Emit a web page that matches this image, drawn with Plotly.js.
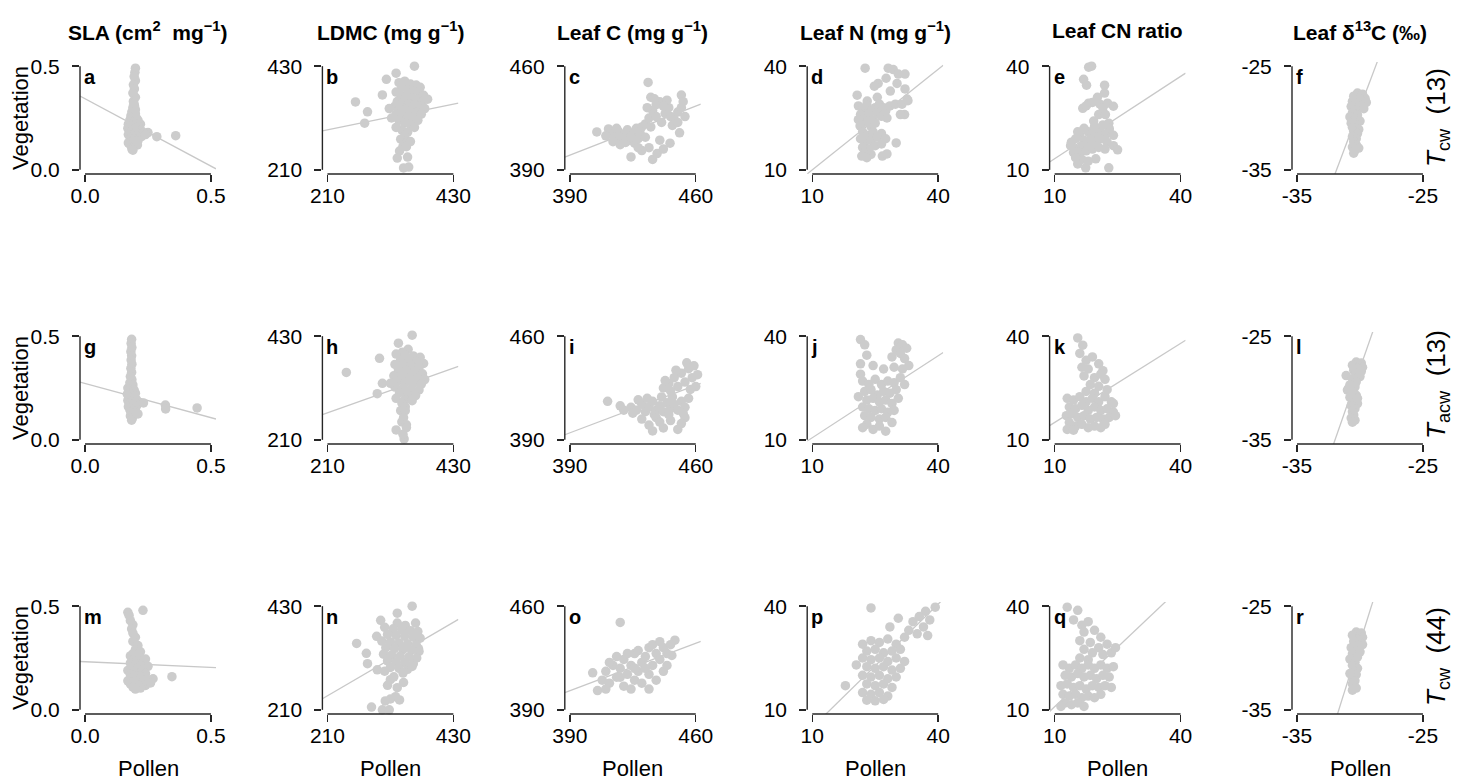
<!DOCTYPE html>
<html>
<head>
<meta charset="utf-8">
<script src="https://cdn.plot.ly/plotly-3.0.1.min.js"></script>
<style>html,body{margin:0;padding:0;background:#fff;}#chart{width:1463px;height:782px;}</style>
</head>
<body>
<div id="chart"></div>
<script>
// ---------------- DATA ----------------
const colTitles = ["SLA (cm<sup>2</sup>\u00a0 mg<sup>\u22121</sup>)", "LDMC (mg g<sup>\u22121</sup>)", "Leaf C (mg g<sup>\u22121</sup>)",
                   "Leaf N (mg g<sup>\u22121</sup>)", "Leaf CN ratio", "Leaf \u03b4<sup>13</sup>C (\u2030)"];
const rowLabels = ["<i>T</i><sub>cw</sub>\u00a0\u00a0(13)", "<i>T</i><sub>acw</sub>\u00a0\u00a0(13)", "<i>T</i><sub>cw</sub>\u00a0\u00a0(44)"];
const panelLetters = ["a","b","c","d","e","f","g","h","i","j","k","l","m","n","o","p","q","r"];
const axisLimits = [[0,0.5],[210,430],[390,460],[10,40],[10,40],[-35,-25]];
const tickLabels = [["0.0","0.5"],["210","430"],["390","460"],["10","40"],["10","40"],["-35","-25"]];
const xTitle = "Pollen";
const yTitle = "Vegetation";

// regression lines (intercept, slope) for panels a..r
const intercepts = [0.343, 242.4, 215.9, 0.3, 5.3, 67.6, 0.272, 176.5, 216.1, 2.7, 7.4, 76.3, 0.232, 90.8, 224.3, -7.0, -0.6, 87.3];
const slopes     = [-0.65, 0.249, 0.472, 0.97, 0.793, 3.22, -0.33, 0.432, 0.458, 0.79, 0.762, 3.48, -0.054, 0.709, 0.458, 1.19, 1.15, 3.86];

// [pollen, vegetation] pairs
const ptsA = [[0.200,0.490],[0.198,0.470],[0.195,0.450],[0.200,0.430],[0.192,0.410],[0.196,0.390],[0.190,0.370],[0.200,0.350],[0.192,0.330],[0.196,0.310],[0.190,0.300],[0.186,0.280],[0.200,0.270],[0.182,0.260],[0.192,0.250],[0.204,0.250],[0.210,0.240],[0.178,0.240],[0.190,0.230],[0.200,0.220],[0.172,0.220],[0.220,0.220],[0.180,0.210],[0.194,0.210],[0.212,0.210],[0.202,0.200],[0.170,0.200],[0.188,0.190],[0.222,0.190],[0.178,0.180],[0.200,0.180],[0.214,0.170],[0.232,0.180],[0.172,0.170],[0.190,0.160],[0.202,0.150],[0.180,0.150],[0.224,0.160],[0.192,0.140],[0.210,0.140],[0.172,0.130],[0.200,0.130],[0.180,0.120],[0.190,0.110],[0.208,0.120],[0.186,0.100],[0.190,0.095],[0.250,0.180],[0.285,0.160],[0.360,0.165],[0.240,0.170],[0.200,0.290],[0.194,0.320]];
const ptsB = [[362,430],[330,415],[313,402],[306,369],[259,354],[280,333],[275,309],[335,395],[345,398],[355,392],[365,390],[372,385],[340,385],[350,380],[360,378],[370,375],[378,368],[330,375],[338,368],[348,365],[358,362],[368,360],[376,355],[332,355],[342,352],[352,350],[362,348],[372,345],[380,340],[328,345],[336,340],[346,338],[356,335],[366,332],[374,328],[330,328],[340,325],[350,322],[360,318],[368,315],[335,315],[345,310],[355,305],[362,300],[340,295],[350,290],[345,282],[338,275],[348,268],[342,260],[348,259],[336,250],[332,235],[350,237],[343,214],[352,216],[355,270],[330,300],[322,320],[385,360],[318,340]];
const ptsC = [[433.5,449],[452,440.5],[435,439],[405,415.6],[411.5,417.6],[413,414],[415,411],[417,416],[419,409],[420,413],[422,417],[423,410],[425,414],[426,408],[427,418],[416,418],[418,412],[421,408.5],[424,412],[414,409],[428,411],[429,415],[430,419],[418,407],[410,413],[432,421],[434,425],[436,430],[438,434],[440,436],[438,426],[441,422],[443,428],[445,432],[446,426],[448,424],[450,429],[452,432],[454,426],[447,420],[444,437],[437,438],[442,433],[433,432],[435,419],[450,422],[453,436],[424,398.7],[436,397],[438.5,401],[451,415],[445.7,408],[440,410],[432,412],[434,405],[430,403],[442,404],[428,405]];
const ptsD = [[22.6,39.4],[28.1,39.4],[29.3,39],[30.5,37.7],[32.1,37.7],[27.6,36.5],[25.7,35],[24.8,34.2],[30.2,35],[32.1,33.4],[20.7,31.6],[28.6,32.8],[25.5,31],[32.6,30.5],[23.1,29.9],[21,28.5],[22,27.5],[23,28.8],[24,27],[25,28],[26,29],[27,28],[21.5,26],[22.5,25],[23.5,26],[24.5,24.5],[25.5,26.5],[26.5,25.5],[22,23.5],[23,24],[24,22.5],[25,23.5],[21,24.5],[27.5,27],[28.5,28.5],[29.8,29],[31.4,29],[32.8,30],[32,26],[31,26],[27.8,25],[21.4,22.7],[22,21],[23,20],[24.5,21],[21.5,19],[22.5,18],[24,18.5],[25.5,19.5],[26.5,20.5],[22,16.5],[23.5,16],[25,17],[26.5,17.5],[27.5,19],[22.5,15],[24,14.5],[21.8,14],[30,17.8],[26.7,14],[27.8,14.6],[23,13.5]];
const ptsE = [[18.1,39.7],[18.8,40],[16.9,36.2],[17.6,34.5],[21.9,34.5],[21.9,32.2],[20.2,31],[18.1,29.3],[16.7,27.8],[22.6,29.3],[24,28.4],[20.5,26],[22.1,26],[19.3,24.1],[22.9,23.5],[19,29.5],[20.8,29],[21.5,28],[17.5,28.5],[14,18],[15,19],[16,20],[17,18.5],[18,21],[19,20],[20,22],[21,21],[22,20],[23,21.5],[24,20],[15,16],[16.5,17],[18,17.5],[19.5,18],[21,19],[22.5,18],[24,17],[14.5,15],[16,15],[17.5,15.5],[19,16],[20.5,16.5],[22,16],[13.8,17],[15.5,21],[17,22],[20,19.5],[18.5,19],[23,22],[21.5,23],[19.5,22.5],[25,15.8],[22.9,10.6],[17.4,10.6],[15.5,11.7],[19.8,13.2],[16.5,13],[18,12.5],[15,13.5]];
const ptsF = [[-30.2,-27.6],[-29.8,-27.7],[-30.5,-27.9],[-29.6,-28.1],[-30.0,-28.2],[-30.6,-28.4],[-29.5,-28.5],[-30.3,-28.6],[-29.9,-28.8],[-30.7,-28.9],[-30.1,-29.0],[-29.7,-29.1],[-30.4,-29.2],[-30.6,-29.5],[-30.2,-29.7],[-30.8,-29.9],[-30.4,-30.1],[-30.0,-30.3],[-30.7,-30.5],[-30.3,-30.7],[-30.6,-30.9],[-30.1,-31.1],[-30.5,-31.3],[-30.2,-31.5],[-30.6,-31.8],[-30.3,-32.0],[-30.5,-32.3],[-30.3,-32.6],[-30.6,-32.8],[-30.4,-33.1],[-30.5,-33.4],[-30.1,-32.9]];
const ptsG = [[0.185,0.485],[0.183,0.465],[0.186,0.445],[0.182,0.425],[0.185,0.405],[0.183,0.385],[0.186,0.365],[0.182,0.345],[0.185,0.325],[0.180,0.305],[0.186,0.29],[0.178,0.275],[0.190,0.265],[0.170,0.25],[0.180,0.245],[0.195,0.24],[0.175,0.235],[0.188,0.23],[0.200,0.225],[0.168,0.22],[0.182,0.215],[0.196,0.21],[0.175,0.205],[0.190,0.2],[0.204,0.195],[0.170,0.19],[0.184,0.185],[0.198,0.18],[0.176,0.175],[0.190,0.17],[0.205,0.165],[0.172,0.16],[0.186,0.155],[0.200,0.15],[0.178,0.145],[0.192,0.14],[0.183,0.13],[0.196,0.128],[0.180,0.115],[0.188,0.105],[0.185,0.095],[0.232,0.178],[0.319,0.168],[0.32,0.149],[0.445,0.154],[0.21,0.125]];
const ptsH = [[358,432],[334,415],[301,383],[243,353],[306,330],[297,308],[341,396],[351,402],[330,392],[345,390],[360,388],[372,385],[338,380],[352,378],[366,376],[378,372],[328,370],[342,368],[356,366],[370,364],[334,358],[348,356],[362,354],[376,350],[326,346],[340,344],[354,342],[368,340],[380,338],[332,334],[346,332],[360,330],[374,328],[328,322],[342,320],[356,318],[370,316],[336,310],[350,306],[364,304],[330,298],[345,295],[358,293],[320,330],[340,288],[346,280],[338,272],[346,272],[343,257],[340,248],[348,242],[330,231],[348,236],[344,212],[342,222]];
const ptsI = [[411,416],[418,413],[424,412],[427,410],[430,414],[432,409],[434,412],[436,416],[438,410],[440,413],[442,409],[444,415],[446,411],[448,414],[450,410],[452,416],[454,412],[456,418],[428,417],[433,418],[441,419],[447,419],[425,408],[437,407],[445,407],[453,408],[420,410],[442,425],[445,428],[448,432],[450,426],[452,435],[454,429],[456,438],[458,432],[460,426],[446,423],[455,442],[459,440],[449,437],[457,424],[443,430],[461,434],[430,404],[434,400],[438,405],[442,398],[446,403],[450,397],[454,405],[440,402],[436,396],[452,401]];
const ptsJ = [[21.5,39],[22.5,37.5],[30.5,38],[31.5,37.5],[32.5,36.5],[30,36],[31,35],[32,33.5],[29,34],[23,34.5],[21.5,32],[24.5,31.5],[27,30.5],[29.5,31],[31.5,30.5],[33,31.5],[22,27],[23.5,26],[25,27.5],[26.5,26],[28,27],[29.5,26.5],[22.5,24],[24,24.5],[25.5,23],[27,24],[28.5,23.5],[30,24.5],[23,21.5],[24.5,22],[26,21],[27.5,21.5],[29,20.5],[22,19.5],[23.5,19],[25,18.5],[26.5,19],[28,18],[29.5,18.5],[22.5,17],[24,16.5],[26,16],[27.5,16.5],[31,28],[32,26],[30.5,22],[23,14.5],[24.5,13],[26,14],[27.5,12.5],[29,15],[22,13.5],[21,22.5],[21.5,29]];
const ptsK = [[15.5,39.5],[16.7,37.4],[16,35],[17.5,33],[19,34],[20.5,32],[18,30.5],[21.5,30],[17,28.5],[19.5,28],[22,27.5],[18.5,26],[20.5,25.5],[22.5,24.5],[17.5,24],[19.5,23.5],[21,29],[16.5,31],[13,22],[14.5,21.5],[16,22.5],[17.5,21],[19,22],[20.5,21],[22,22.5],[23.5,21],[13.5,19.5],[15,19],[16.5,20],[18,18.5],[19.5,19.5],[21,18.5],[22.5,19],[24,18],[12.8,17],[14,17.5],[15.5,16.5],[17,17],[18.5,16],[20,16.5],[21.5,16],[23,16.5],[24.5,17],[13.5,15],[15,14],[16.5,14.5],[18,13.5],[19.5,14],[21,13.5],[13,13],[14.5,12.8],[22,14.5],[24,20.5]];
const ptsL = [[-30.3,-27.5],[-29.9,-27.6],[-30.6,-27.8],[-29.8,-28.0],[-30.2,-28.1],[-30.5,-28.3],[-29.9,-28.4],[-31.1,-28.8],[-30.3,-28.6],[-30.0,-28.9],[-30.6,-29.1],[-30.3,-29.4],[-30.8,-29.7],[-30.4,-29.9],[-31.0,-30.2],[-30.6,-30.4],[-30.3,-30.7],[-30.8,-30.9],[-30.5,-31.2],[-30.2,-31.5],[-30.7,-31.7],[-30.4,-32.0],[-30.6,-32.3],[-30.5,-32.6],[-30.7,-32.9],[-30.4,-33.1],[-30.6,-33.3],[-30.2,-31.0],[-30.9,-30.0]];
const ptsM = [[0.17,0.47],[0.23,0.48],[0.175,0.455],[0.18,0.43],[0.19,0.41],[0.185,0.39],[0.19,0.37],[0.2,0.35],[0.19,0.33],[0.21,0.31],[0.2,0.29],[0.22,0.28],[0.19,0.27],[0.18,0.26],[0.2,0.255],[0.22,0.25],[0.24,0.245],[0.19,0.24],[0.21,0.235],[0.23,0.23],[0.18,0.225],[0.2,0.22],[0.22,0.215],[0.25,0.21],[0.19,0.205],[0.21,0.2],[0.23,0.195],[0.17,0.19],[0.2,0.185],[0.22,0.18],[0.24,0.175],[0.18,0.17],[0.21,0.165],[0.23,0.16],[0.19,0.155],[0.22,0.15],[0.25,0.145],[0.17,0.14],[0.2,0.135],[0.23,0.13],[0.18,0.125],[0.21,0.12],[0.24,0.118],[0.19,0.11],[0.22,0.105],[0.2,0.1],[0.27,0.15],[0.345,0.16],[0.26,0.13]];
const ptsN = [[358,430],[332,415],[303,400],[261,351],[278,330],[280,308],[296,366],[297,295],[332,394],[346,389],[364,394],[369,340],[310,385],[325,382],[340,380],[355,378],[368,376],[315,370],[330,368],[345,366],[360,364],[372,362],[305,356],[320,354],[335,352],[350,350],[365,348],[312,342],[327,340],[342,338],[357,336],[370,334],[308,328],[322,326],[337,324],[352,322],[366,320],[315,314],[330,312],[345,310],[360,308],[320,300],[335,298],[350,296],[310,292],[342,288],[358,302],[320,274],[332,257],[320,233],[311,229],[329,238],[336,231],[287,216],[306,210],[318,210],[343,268],[326,280],[315,262]];
const ptsO = [[418,449],[402.7,415],[405.4,403],[448.4,437],[446.7,426.7],[408,410],[410,416],[412,408],[414,420],[416,412],[418,418],[420,406],[420,424],[422,414],[424,420],[426,410],[426,428],[428,416],[430,422],[430,408],[432,426],[434,414],[434,432],[436,420],[438,428],[438,410],[440,424],[442,432],[442,416],[444,420],[446,434],[416,426],[412,422],[424,404],[428,430],[422,428],[436,434],[432,418],[418,412],[426,418],[440,436],[444,428],[410,404],[434,404]];
const ptsP = [[39.3,39.7],[37,38.5],[35.5,37],[38,36],[34,35.5],[36.5,34],[33,33],[35,32],[32,31],[37.5,31.5],[24,39.5],[30.5,36.5],[28.5,34],[22,29],[24,30],[26,29.5],[28,30.5],[30,29],[23,27],[25,27.5],[27,26.5],[29,27],[31,27.5],[22,25],[24,24.5],[26,25],[28,24],[30,25],[23,22.5],[25,22],[27,22.5],[29,21.5],[31,22],[22,20],[24,19.5],[26,20],[28,19],[30,19.5],[23,17.5],[25,17],[27,17.5],[29,16.5],[22,15],[24,14.5],[26,15],[28,14],[23,12.8],[25,12.6],[27,13],[17.9,17],[20.5,23],[32,24]];
const ptsQ = [[13,39.7],[15.5,38.8],[14.5,36],[16.5,34.5],[18,35.5],[17,32.5],[19.5,33],[21,31],[16,30],[18.5,29.5],[20.5,28],[22.5,29],[17,27.5],[19,26.5],[21.5,26],[23.5,26.5],[24.5,28],[16,25],[18,24.5],[12,23],[13.5,22],[15,23],[16.5,22],[18,23],[19.5,22],[21,23],[22.5,22],[24,22.5],[12.5,20],[14,19.5],[15.5,20.5],[17,19.5],[18.5,20],[20,19],[21.5,20],[23,19.5],[11.5,17],[13,17.5],[14.5,16.5],[16,17],[17.5,16],[19,17],[20.5,16.5],[22,17],[23.5,16.5],[12,14.5],[13.5,14],[15,14.5],[16.5,13.5],[18,14],[19.5,13.5],[21,14.5],[12.5,12],[14,11.5],[15.5,12],[17,11],[11.5,11]];
const ptsR = [[-30.3,-27.5],[-29.9,-27.6],[-30.6,-27.8],[-29.8,-28.0],[-30.2,-28.2],[-30.5,-28.4],[-29.8,-28.7],[-30.1,-28.8],[-30.7,-29.0],[-30.3,-29.3],[-30.6,-29.6],[-30.2,-29.9],[-30.8,-30.1],[-30.4,-30.4],[-30.6,-30.7],[-30.2,-31.0],[-30.5,-31.3],[-30.3,-31.6],[-30.6,-31.9],[-30.4,-32.2],[-30.6,-32.5],[-30.5,-32.8],[-30.6,-33.1],[-30.3,-32.9],[-30.8,-31.5],[-30.0,-29.4]];

const allPoints = [ptsA,ptsB,ptsC,ptsD,ptsE,ptsF,ptsG,ptsH,ptsI,ptsJ,ptsK,ptsL,ptsM,ptsN,ptsO,ptsP,ptsQ,ptsR];

// ---------------- LAYOUT ----------------
const W = 1463, H = 782;
const FONT = "Liberation Sans, Arial, Helvetica, sans-serif";
const AX = "#262626";
const colLeft = c => 80 + 242.4 * c;
const rowTop = r => 62 + 270 * r;
const PW = 136, PH = 112;

const traces = [], shapes = [], annotations = [];
const layout = {
  width: W, height: H, margin: {l:0, r:0, t:0, b:0},
  paper_bgcolor: "#fff", plot_bgcolor: "#fff", showlegend: false,
  font: {family: FONT, color: "#000"}
};

for (let r = 0; r < 3; r++) {
  for (let c = 0; c < 6; c++) {
    const i = r * 6 + c, k = i + 1, s = k === 1 ? "" : String(k);
    const [lo, hi] = axisLimits[c];
    const pad = (hi - lo) * 0.04;
    const rng = [lo - pad, hi + pad];
    const L = colLeft(c), T = rowTop(r);
    const common = {
      range: rng, tickvals: [lo, hi], ticktext: tickLabels[c],
      ticks: "outside", ticklen: 7, tickwidth: 1.4, tickcolor: AX,
      showline: false, showgrid: false, zeroline: false, fixedrange: true,
      tickfont: {family: FONT, size: 21, color: "#000"}
    };
    layout["xaxis" + s] = Object.assign({}, common, {
      domain: [L / W, (L + PW) / W], anchor: "y" + s, ticklabelstandoff: -4
    });
    layout["yaxis" + s] = Object.assign({}, common, {
      domain: [1 - (T + PH) / H, 1 - T / H], anchor: "x" + s, ticklabelstandoff: 8
    });
    // axis lines spanning first to last tick
    shapes.push({type: "line", xref: "x" + s, yref: "y" + s + " domain", x0: lo, x1: hi, y0: 0, y1: 0,
                 line: {color: AX, width: 1.4}});
    shapes.push({type: "line", xref: "x" + s + " domain", yref: "y" + s, x0: 0, x1: 0, y0: lo, y1: hi,
                 line: {color: AX, width: 1.4}});
    // regression line
    traces.push({type: "scatter", mode: "lines", x: rng, y: rng.map(x => intercepts[i] + slopes[i] * x),
                 xaxis: "x" + s, yaxis: "y" + s, line: {color: "#c8c8c8", width: 1.3}, hoverinfo: "skip"});
    // points
    const pts = allPoints[i];
    traces.push({type: "scatter", mode: "markers", x: pts.map(p => p[0]), y: pts.map(p => p[1]),
                 xaxis: "x" + s, yaxis: "y" + s, cliponaxis: false,
                 marker: {size: 9.5, color: "#cccccc", line: {width: 0}}});
    // panel letter
    annotations.push({xref: "paper", yref: "paper", x: (L + 2) / W, y: 1 - (T + 15) / H,
                      xanchor: "left", yanchor: "middle", showarrow: false,
                      text: "<b>" + panelLetters[i] + "</b>", font: {family: FONT, size: 20, color: "#000"}});
    if (r === 0) {
      annotations.push({xref: "paper", yref: "paper", x: (L + PW / 2) / W, y: 1 - 31 / H,
                        xanchor: "center", yanchor: "middle", showarrow: false,
                        text: "<b>" + colTitles[c] + "</b>", font: {family: FONT, size: 21, color: "#000"}});
    }
    if (r === 2) {
      annotations.push({xref: "paper", yref: "paper", x: (L + PW / 2) / W, y: 1 - 768 / H,
                        xanchor: "center", yanchor: "middle", showarrow: false,
                        text: xTitle, font: {family: FONT, size: 22, color: "#000"}});
    }
    if (c === 0) {
      annotations.push({xref: "paper", yref: "paper", x: 20 / W, y: 1 - (T + 56) / H,
                        xanchor: "center", yanchor: "middle", showarrow: false, textangle: -90,
                        text: yTitle, font: {family: FONT, size: 22, color: "#000"}});
    }
    if (c === 5) {
      const cy = [118, 385, 657][r];
      annotations.push({xref: "paper", yref: "paper", x: 1437 / W, y: 1 - cy / H,
                        xanchor: "center", yanchor: "middle", showarrow: false, textangle: -90,
                        text: rowLabels[r], font: {family: FONT, size: 26, color: "#000"}});
    }
  }
}
layout.shapes = shapes;
layout.annotations = annotations;

Plotly.newPlot("chart", traces, layout, {displayModeBar: false, staticPlot: true});
</script>
</body>
</html>
